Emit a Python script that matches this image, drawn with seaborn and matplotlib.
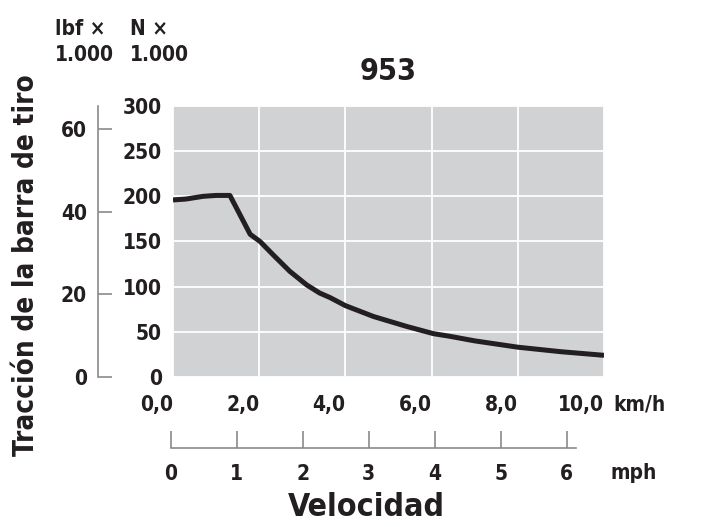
import matplotlib
matplotlib.use("Agg")
import matplotlib.pyplot as plt
import matplotlib.transforms as mtransforms
import seaborn as sns
import pandas as pd

# ─── Datos ───────────────────────────────────────────────────────────────────
velocidad_kmh = [0, 0.3, 0.7, 1.0, 1.32, 1.55, 1.79, 2.02, 2.35, 2.71, 3.10,
                 3.40, 3.64, 4.0, 4.65, 5.42, 6.04, 6.43, 7.0, 8.0, 9.0, 10.0]
traccion_kN = [196, 197, 200, 201, 201, 180, 158, 150, 134, 117, 102,
               93, 88, 79, 67, 56, 48, 45, 40, 33, 28, 24]

ticks_kmh = [0, 2, 4, 6, 8, 10]
etiquetas_kmh = ["0,0", "2,0", "4,0", "6,0", "8,0", "10,0"]
ticks_N = [0, 50, 100, 150, 200, 250, 300]
ticks_lbf = [0, 20, 40, 60]
ticks_mph = [0, 1, 2, 3, 4, 5, 6]

TINTA = "#231f20"
GRIS_FONDO = "#d1d2d4"
GRIS_EJE = "#8a8a8a"
W, H = 704, 527

sns.set_theme(style="white")
plt.rcParams["font.family"] = ["DejaVu Sans"]
plt.rcParams["font.stretch"] = "condensed"
plt.rcParams["font.weight"] = "bold"
plt.rcParams["text.color"] = TINTA
plt.rcParams["axes.labelcolor"] = TINTA
plt.rcParams["xtick.color"] = TINTA
plt.rcParams["ytick.color"] = TINTA

FS = 15  # tamaño de los números de los ejes

fig = plt.figure(figsize=(W / 100, H / 100), dpi=100)


def caja(x0, y0, x1, y1):
    """Convierte píxeles (origen arriba-izquierda) a coordenadas de figura."""
    return [x0 / W, 1 - y1 / H, (x1 - x0) / W, (y1 - y0) / H]


# ─── Gráfico principal (N x 1000 vs km/h) ────────────────────────────────────
ax = fig.add_axes(caja(173, 106, 604, 377))
ax.set_facecolor(GRIS_FONDO)
df = pd.DataFrame({"kmh": velocidad_kmh, "kN": traccion_kN})
sns.lineplot(data=df, x="kmh", y="kN", ax=ax, color=TINTA, linewidth=3.6,
             solid_joinstyle="round", solid_capstyle="butt")
ax.set_xlim(0, 10)
ax.set_ylim(0, 300)
ax.set_xticks(ticks_kmh)
ax.set_xticklabels(etiquetas_kmh, fontsize=FS, fontweight="bold", ha="right")
ax.set_yticks(ticks_N)
ax.set_yticklabels([str(t) for t in ticks_N], fontsize=FS, fontweight="bold")
desplaza = mtransforms.ScaledTranslation(1 / 100, 0, fig.dpi_scale_trans)
for lab in ax.get_xticklabels():
    lab.set_transform(lab.get_transform() + desplaza)
ax.tick_params(axis="both", length=0)
ax.tick_params(axis="x", pad=13)
ax.tick_params(axis="y", pad=8)
ax.grid(True, color="white", linewidth=1.3)
ax.set_axisbelow(True)
for s in ax.spines.values():
    s.set_visible(False)
ax.set_xlabel("")
ax.set_ylabel("")
ax.set_title("953", fontsize=22, fontweight="bold", color=TINTA, pad=19)

# ─── Eje secundario lbf x 1000 ───────────────────────────────────────────────
ax_lbf = fig.add_axes(caja(98, 106, 99, 377))
ax_lbf.set_ylim(0, 65.6)
ax_lbf.set_yticks(ticks_lbf)
ax_lbf.set_yticklabels([str(t) for t in ticks_lbf], fontsize=FS, fontweight="bold")
ax_lbf.set_xticks([])
ax_lbf.patch.set_visible(False)
for nombre, s in ax_lbf.spines.items():
    s.set_visible(nombre == "left")
ax_lbf.spines["left"].set_color(GRIS_EJE)
ax_lbf.spines["left"].set_linewidth(1.2)
ax_lbf.tick_params(axis="y", direction="in", length=10, width=1.2,
                   color=GRIS_EJE, pad=8, left=True)

# ─── Eje secundario mph ──────────────────────────────────────────────────────
ax_mph = fig.add_axes(caja(170.7, 446.7, 576, 447.7))
ax_mph.set_xlim(0, 6.14)
ax_mph.set_xticks(ticks_mph)
ax_mph.set_xticklabels([str(t) for t in ticks_mph], fontsize=FS, fontweight="bold")
ax_mph.set_yticks([])
ax_mph.patch.set_visible(False)
for nombre, s in ax_mph.spines.items():
    s.set_visible(nombre == "bottom")
ax_mph.spines["bottom"].set_color(GRIS_EJE)
ax_mph.spines["bottom"].set_linewidth(1.2)
ax_mph.tick_params(axis="x", direction="in", length=12, width=1.2,
                   color=GRIS_EJE, pad=12, bottom=True)

# ─── Textos ──────────────────────────────────────────────────────────────────
fig.text(613 / W, 1 - 404 / H, "km/h", fontsize=FS, fontweight="bold", va="center")
fig.text(611 / W, 1 - 473 / H, "mph", fontsize=FS, fontweight="bold", va="center")
fig.text(55 / W, 1 - 19 / H, "lbf ×\n1.000", fontsize=FS, fontweight="bold",
         va="top", linespacing=1.4)
fig.text(130 / W, 1 - 19 / H, "N ×\n1.000", fontsize=FS, fontweight="bold",
         va="top", linespacing=1.4)
fig.text(366 / W, 1 - 508 / H, "Velocidad", fontsize=23, fontweight="bold",
         ha="center", va="center")
fig.text(26 / W, 1 - 265 / H, "Tracción de la barra de tiro", fontsize=20,
         fontweight="bold", rotation=90, ha="center", va="center")

fig.savefig("out.png", dpi=100)
